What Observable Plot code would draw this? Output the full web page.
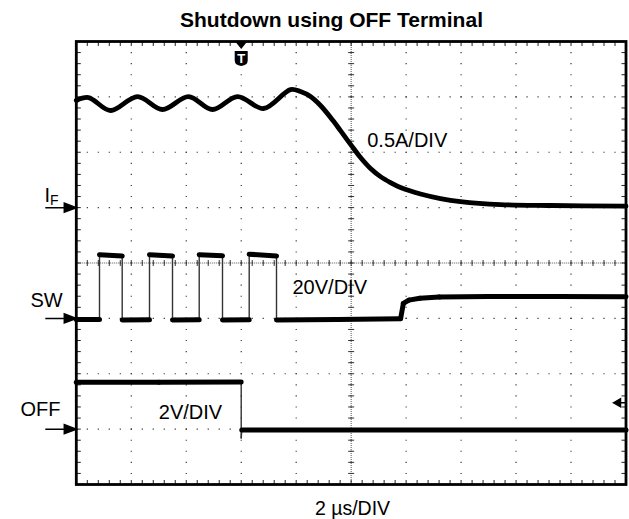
<!DOCTYPE html>
<html><head><meta charset="utf-8">
<script src="https://cdn.jsdelivr.net/npm/d3@7"></script>
<script src="https://cdn.jsdelivr.net/npm/@observablehq/plot@0.6"></script>
<style>html,body{margin:0;padding:0;background:#fff;} svg{display:block}</style>
</head><body><div id="chart"></div>
<script>
// ---- texts ----
const title = "Shutdown using OFF Terminal";
const timeLabel = "2 µs/DIV";

// ---- scope setup: 10 x 8 divisions, 2 µs/div ----
const timeSpan = [0, 20];          // µs
const divSpan = [0, 8];            // vertical divisions
const channelNames = ["IF", "SW", "OFF"];
const channelRefDiv = [5, 3, 1];   // ground reference, divisions from bottom
const channelPerDiv = [0.5, 20, 2];// A/div, V/div, V/div
const channelScaleLabels = ["0.5A/DIV", "20V/DIV", "2V/DIV"];

// ---- trace IF (A) ----
const ifTime = [0, 0.444, 1.244, 2.227, 3.136, 4.082, 4.955, 5.865, 6.811, 7.793,
  8.157, 8.521, 8.885, 9.34, 9.612, 10.013, 10.341, 10.705, 11.068, 11.432, 11.796,
  12.524, 13.251, 13.979, 15.434, 17.254, 20];
const ifAmps = [0.967, 0.994, 0.877, 1.003, 0.886, 1.003, 0.886, 1.003, 0.895, 1.066,
  1.048, 1.003, 0.922, 0.786, 0.695, 0.56, 0.452, 0.353, 0.280, 0.226, 0.181,
  0.123, 0.082, 0.055, 0.028, 0.019, 0.013];

// ---- trace SW (V) ----
const swTime = [0, 0.844, 0.844, 1.670, 1.670, 2.663, 2.663, 3.500, 3.500, 4.472, 4.472,
  5.319, 5.319, 6.291, 6.291, 7.284, 7.284, 9.5, 11.80, 11.90, 12.1, 12.5, 13.2, 15.0, 17.5, 20];
const swVolts = [-0.4, -0.4, 23.0, 22.5, -0.6, -0.5, 23.0, 22.5, -0.6, -0.5, 23.0,
  22.6, -0.6, -0.5, 23.2, 22.5, -0.6, -0.4, -0.1, 5.4, 6.6, 7.3, 7.7, 7.9, 7.9, 7.8];

// ---- trace OFF (V) ----
const offTime = [0, 3, 6.0, 6.0, 6.02, 20];
const offVolts = [1.69, 1.69, 1.70, -0.34, -0.03, -0.03];

// ---- trigger ----
const triggerTime = 6.0;    // µs
const triggerLevel = 0.95;  // V on OFF

// ---- build tables ----
const toDiv = (ch, v) => channelRefDiv[ch] + v / channelPerDiv[ch];
const ifData = ifTime.map((t, i) => ({t, y: toDiv(0, ifAmps[i])}));
const segs = (times, vals, ch) => d3.pairs(times.map((t, i) => ({t, y: toDiv(ch, vals[i])})))
  .map(([a, b]) => ({x1: a.t, y1: a.y, x2: b.t, y2: b.y, edge: Math.abs(b.t - a.t) < 0.05}));
const traceSegs = [...segs(swTime, swVolts, 1), ...segs(offTime, offVolts, 2)];

const minorX = d3.range(0, 20.0001, 0.4);
const minorY = d3.range(0, 8.0001, 0.2);
const majorX = d3.range(2, 19, 2);
const majorY = d3.range(1, 8, 1);
const gridDots = [
  ...majorX.flatMap(x => minorY.map(y => ({x, y}))),
  ...majorY.flatMap(y => minorX.map(x => ({x, y})))
];

const sym = draw => ({draw});
const line = (x0, y0, x1, y1) => sym(c => { c.moveTo(x0, y0); c.lineTo(x1, y1); });
const arrowIn = sym(c => { c.moveTo(-31, 0); c.lineTo(-12, 0); c.moveTo(0, 0); c.lineTo(-12, -4.5); c.lineTo(-12, 4.5); c.closePath(); });
const trigArrow = sym(c => { c.moveTo(0, 0); c.lineTo(-5.5, 0); c.moveTo(-12.5, 0); c.lineTo(-5.5, -4); c.lineTo(-5.5, 4); c.closePath(); });
const tMarker = sym(c => {
  c.moveTo(-6, 0); c.lineTo(6, 0); c.lineTo(0, 7.5); c.closePath();
  c.moveTo(-6.5, 9.5); c.lineTo(6.5, 9.5); c.lineTo(6.5, 19);
  c.quadraticCurveTo(6.5, 23.5, 0, 24.5); c.quadraticCurveTo(-6.5, 23.5, -6.5, 19); c.closePath();
});

// label placement (µs, div)
const scaleLabelPos = [{x: 10.584, y: 6.091}, {x: 7.866, y: 3.444}, {x: 3.0, y: 1.186}];
const nameLabelPos = [{x: -1.157, y: 5.102}, {x: -1.666, y: 3.202}, {x: -2.03, y: 1.228}];

const scaleLabels = channelScaleLabels.map((s, i) => ({...scaleLabelPos[i], s}));
const nameLabels = [{...nameLabelPos[0], s: "I"}, {...nameLabelPos[1], s: channelNames[1]}, {...nameLabelPos[2], s: channelNames[2]}];

const chart = Plot.plot({
  width: 629, height: 519,
  marginLeft: 75.8, marginRight: 3.5, marginTop: 41, marginBottom: 35,
  x: {domain: timeSpan, axis: null},
  y: {domain: divSpan, axis: null},
  style: {fontFamily: "'Liberation Sans', Arial, Helvetica, sans-serif", background: "white", color: "black"},
  marks: [
    // grid dots
    Plot.dot(gridDots, {x: "x", y: "y", symbol: "square", r: 0.62, fill: "#222", stroke: "none"}),
    // center crosshair
    Plot.ruleX([10], {stroke: "#555", strokeDasharray: "1,1", strokeWidth: 1}),
    Plot.ruleY([4], {stroke: "#555", strokeDasharray: "1,1", strokeWidth: 1}),
    Plot.dot(minorY, {x: () => 10, y: d => d, symbol: line(-3, 0, 3, 0), stroke: "#333", fill: "none", strokeWidth: 1}),
    Plot.dot(minorX, {x: d => d, y: () => 4, symbol: line(0, -3, 0, 3), stroke: "#333", fill: "none", strokeWidth: 1}),
    // frame ticks
    Plot.dot(minorX, {x: d => d, y: () => 8, symbol: line(0, 0, 0, 4.5), stroke: "#222", fill: "none", strokeWidth: 1}),
    Plot.dot(minorX, {x: d => d, y: () => 0, symbol: line(0, 0, 0, -4.5), stroke: "#222", fill: "none", strokeWidth: 1}),
    Plot.dot(minorY, {x: () => 0, y: d => d, symbol: line(0, 0, 4.5, 0), stroke: "#222", fill: "none", strokeWidth: 1}),
    Plot.dot(minorY, {x: () => 20, y: d => d, symbol: line(0, 0, -4.5, 0), stroke: "#222", fill: "none", strokeWidth: 1}),
    Plot.frame({stroke: "black", strokeWidth: 2.8}),
    // traces
    Plot.line(ifData, {x: "t", y: "y", curve: "catmull-rom", stroke: "black", strokeWidth: 4.8, strokeLinejoin: "round"}),
    Plot.link(traceSegs.filter(d => d.edge), {x1: "x1", y1: "y1", x2: "x2", y2: "y2", stroke: "#333", strokeWidth: 1.4}),
    Plot.link(traceSegs.filter(d => !d.edge), {x1: "x1", y1: "y1", x2: "x2", y2: "y2", stroke: "black", strokeWidth: 5, strokeLinecap: "round"}),
    // reference arrows
    Plot.dot(channelRefDiv, {x: () => 0, y: d => d, symbol: arrowIn, fill: "black", stroke: "black", strokeWidth: 1.5}),
    // trigger markers
    Plot.dot([triggerLevel], {x: () => 20, y: d => toDiv(2, d), symbol: trigArrow, fill: "black", stroke: "black", strokeWidth: 1.5}),
    Plot.dot([triggerTime], {x: d => d, y: () => 8, symbol: tMarker, fill: "black", stroke: "none"}),
    Plot.text([triggerTime], {x: d => d, y: () => 8, text: () => "T", dy: 17.5, lineAnchor: "middle", fill: "white", fontWeight: "bold", fontSize: 13}),
    // labels
    Plot.text(scaleLabels, {x: "x", y: "y", text: "s", textAnchor: "start", lineAnchor: "bottom", fontSize: 20, fill: "black"}),
    Plot.text(nameLabels, {x: "x", y: "y", text: "s", textAnchor: "start", lineAnchor: "bottom", fontSize: 20, fill: "black"}),
    Plot.text(["F"], {x: () => -0.957, y: () => 5.056, text: d => d, textAnchor: "start", lineAnchor: "bottom", fontSize: 14, fill: "black"}),
    Plot.text([title], {x: () => 9.285, y: () => 8.253, text: d => d, textAnchor: "middle", lineAnchor: "bottom", fontSize: 21, fontWeight: "bold", fill: "black"}),
    Plot.text([timeLabel], {x: () => 10.049, y: () => -0.542, text: d => d, textAnchor: "middle", lineAnchor: "bottom", fontSize: 19.5, fill: "black"})
  ]
});
document.getElementById("chart").appendChild(chart);
</script>
</body></html>
